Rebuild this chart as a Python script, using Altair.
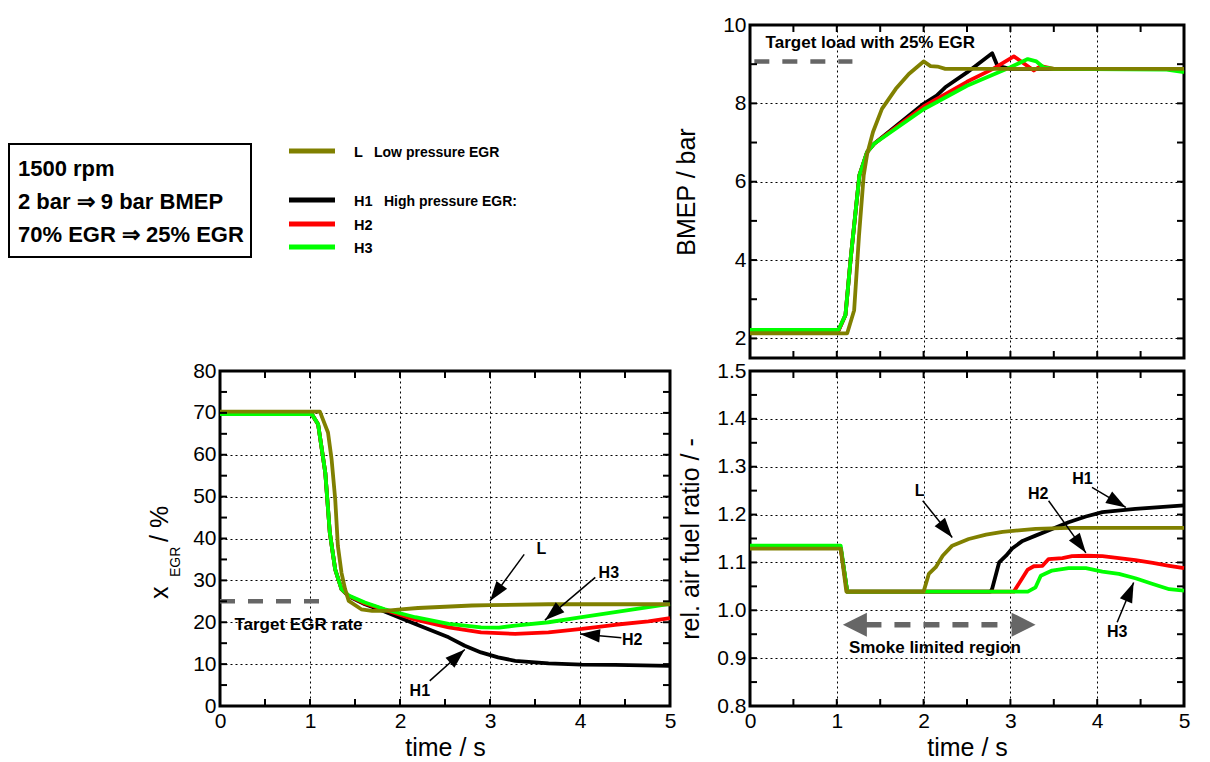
import math
import altair as alt
import pandas as pd

FONT = "Liberation Sans"
OLIVE, BLACK, RED, GREEN, GREY = "#808000", "#000000", "#ff0000", "#00ff00", "#666666"

# ------------------------------------------------------------------ data
series_names = ["H1", "H2", "H3", "L"]
series_colors = [BLACK, RED, GREEN, OLIVE]

# BMEP / bar
bmep_h1_t = [0, 1.02, 1.10, 1.16, 1.26, 1.35, 1.43, 2.0, 2.15, 2.25, 2.5, 2.79, 2.85, 3.0, 5.0]
bmep_h1_v = [2.2, 2.2, 2.6, 4.04, 6.16, 6.76, 6.97, 7.99, 8.2, 8.41, 8.79, 9.28, 8.96, 8.88, 8.88]
bmep_h2_t = [0, 1.02, 1.10, 1.16, 1.26, 1.35, 1.43, 2.0, 2.5, 2.8, 3.04, 3.27, 3.35, 3.5, 5.0]
bmep_h2_v = [2.2, 2.2, 2.6, 4.04, 6.16, 6.76, 6.97, 7.92, 8.55, 8.88, 9.2, 8.84, 8.95, 8.88, 8.88]
bmep_h3_t = [0, 1.02, 1.10, 1.16, 1.26, 1.35, 1.43, 2.0, 2.5, 3.0, 3.2, 3.3, 3.38, 3.5, 4.8, 5.0]
bmep_h3_v = [2.22, 2.22, 2.6, 4.04, 6.16, 6.76, 6.97, 7.85, 8.45, 8.92, 9.13, 9.07, 8.92, 8.88, 8.86, 8.8]
bmep_l_t = [0, 1.12, 1.2, 1.256, 1.31, 1.35, 1.417, 1.52, 1.68, 1.83, 2.0, 2.08, 2.16, 2.25, 5.0]
bmep_l_v = [2.13, 2.13, 2.72, 4.63, 6.16, 6.71, 7.27, 7.86, 8.37, 8.75, 9.07, 8.95, 8.94, 8.88, 8.88]

# x_EGR / %
egr_h1_t = [0, 1.02, 1.09, 1.17, 1.22, 1.28, 1.35, 1.43, 1.61, 1.8, 2.17, 2.54, 2.72, 2.9, 3.09, 3.28, 3.65, 4.02, 4.39, 5.0]
egr_h1_v = [69.7, 69.7, 67.3, 55.7, 41.4, 32.6, 27.9, 26.2, 24.3, 22.8, 19.6, 16.4, 14.4, 12.8, 11.6, 10.8, 10.2, 9.9, 9.8, 9.6]
egr_h2_t = [0, 1.02, 1.09, 1.17, 1.22, 1.28, 1.35, 1.43, 1.61, 1.8, 2.17, 2.54, 2.9, 3.28, 3.65, 4.02, 4.39, 4.76, 5.0]
egr_h2_v = [69.7, 69.7, 67.3, 55.7, 41.4, 32.6, 27.9, 26.3, 24.5, 23.2, 20.6, 18.8, 17.6, 17.2, 17.6, 18.4, 19.4, 20.2, 21.0]
egr_h3_t = [0, 1.02, 1.09, 1.17, 1.22, 1.28, 1.35, 1.43, 1.61, 1.83, 2.17, 2.54, 2.9, 3.1, 3.28, 3.65, 4.02, 4.39, 4.76, 5.0]
egr_h3_v = [69.7, 69.7, 67.3, 55.7, 41.4, 32.6, 27.9, 26.4, 24.7, 23.1, 21.2, 19.6, 18.8, 18.7, 19.2, 20.0, 21.2, 22.4, 23.6, 24.4]
egr_l_t = [0, 1.11, 1.2, 1.24, 1.28, 1.31, 1.35, 1.39, 1.43, 1.57, 1.69, 1.83, 1.98, 2.2, 2.5, 2.8, 3.0, 3.65, 5.0]
egr_l_v = [70.3, 70.3, 65.3, 58.9, 49.4, 38.2, 31.8, 27.9, 25.1, 23.1, 22.7, 22.7, 23.0, 23.4, 23.7, 24.0, 24.1, 24.3, 24.3]

# rel. air fuel ratio / -
lam_h1_t = [0, 1.045, 1.12, 2.77, 2.79, 2.87, 2.95, 3.02, 3.14, 3.29, 3.48, 3.67, 3.87, 4.06, 4.44, 5.0]
lam_h1_v = [1.13, 1.13, 1.039, 1.039, 1.045, 1.10, 1.114, 1.129, 1.145, 1.156, 1.17, 1.184, 1.196, 1.205, 1.212, 1.219]
lam_h2_t = [0, 1.045, 1.12, 3.04, 3.2, 3.27, 3.37, 3.44, 3.6, 3.71, 3.87, 4.06, 4.25, 4.44, 4.64, 4.83, 5.0]
lam_h2_v = [1.13, 1.13, 1.039, 1.039, 1.085, 1.092, 1.093, 1.107, 1.109, 1.113, 1.114, 1.113, 1.109, 1.105, 1.099, 1.093, 1.088]
lam_h3_t = [0, 1.045, 1.12, 3.2, 3.29, 3.35, 3.48, 3.67, 3.87, 4.06, 4.25, 4.44, 4.64, 4.83, 5.0]
lam_h3_v = [1.135, 1.135, 1.039, 1.039, 1.048, 1.072, 1.083, 1.088, 1.088, 1.081, 1.076, 1.067, 1.055, 1.044, 1.041]
lam_l_t = [0, 1.045, 1.11, 2.0, 2.06, 2.14, 2.22, 2.33, 2.52, 2.72, 2.91, 3.29, 3.67, 5.0]
lam_l_v = [1.129, 1.129, 1.039, 1.039, 1.076, 1.09, 1.114, 1.135, 1.149, 1.158, 1.164, 1.17, 1.172, 1.172]

# axis ticks
time_major = [0, 1, 2, 3, 4, 5]
time_minor = [0, 0.5, 1, 1.5, 2, 2.5, 3, 3.5, 4, 4.5, 5]
bmep_major = [2, 4, 6, 8, 10]
bmep_minor = [2, 3, 4, 5, 6, 7, 8, 9, 10]
egr_major = [0, 10, 20, 30, 40, 50, 60, 70, 80]
egr_minor = [0, 5, 10, 15, 20, 25, 30, 35, 40, 45, 50, 55, 60, 65, 70, 75, 80]
lam_major = [0.8, 0.9, 1.0, 1.1, 1.2, 1.3, 1.4, 1.5]
lam_minor = [0.8, 0.85, 0.9, 0.95, 1.0, 1.05, 1.1, 1.15, 1.2, 1.25, 1.3, 1.35, 1.4, 1.45, 1.5]

# annotations
bmep_target_t = [0.05, 1.18]
bmep_target_v = 9.07
bmep_target_text = "Target load with 25% EGR"
bmep_target_text_pos = (0.18, 9.54)

egr_target_t = [0.0, 1.15]
egr_target_v = 25
egr_target_text = "Target EGR rate"
egr_target_text_pos = (0.16, 19.3)
egr_arrow_labels = ["L", "H3", "H2", "H1"]
egr_arrow_label_t = [3.57, 4.32, 4.58, 2.22]
egr_arrow_label_v = [37.4, 31.7, 15.8, 3.6]
egr_arrow_from_t = [3.38, 4.17, 4.46, 2.33]
egr_arrow_from_v = [36.2, 30.7, 16.3, 6.0]
egr_arrow_to_t = [3.0, 3.61, 4.0, 2.72]
egr_arrow_to_v = [25.1, 20.5, 17.2, 13.5]

lam_arrow_labels = ["L", "H2", "H1", "H3"]
lam_arrow_label_t = [1.955, 3.32, 3.83, 4.23]
lam_arrow_label_v = [1.25, 1.244, 1.274, 0.955]
lam_arrow_from_t = [1.99, 3.44, 3.94, 4.23]
lam_arrow_from_v = [1.229, 1.229, 1.257, 0.975]
lam_arrow_to_t = [2.33, 3.87, 4.33, 4.42]
lam_arrow_to_v = [1.152, 1.12, 1.215, 1.058]
smoke_text = "Smoke limited region"
smoke_text_pos = (2.13, 0.922)
smoke_tips_t = [1.07, 3.29]
smoke_shaft_t = [1.33, 3.04]
smoke_v = 0.97

info_lines = ["1500 rpm", "2 bar \u21d2 9 bar BMEP", "70% EGR \u21d2 25% EGR"]
legend_labels = ["L", "H1", "H2", "H3"]
legend_desc = ["Low pressure EGR", "High pressure EGR:", "", ""]
legend_colors = [OLIVE, BLACK, RED, GREEN]

# ------------------------------------------------------------------ helpers
def frame(t, v):
    return pd.DataFrame({"t": t, "v": v})


def x_axis(labels, title):
    kw = dict(values=time_major, grid=True, gridDash=[2, 3], gridColor="black",
              gridOpacity=1, gridWidth=1, domain=False, ticks=False, tickSize=0,
              labels=labels, labelFont=FONT, labelFontSize=21, labelColor="black",
              labelPadding=4, labelFlush=False, labelOverlap=False)
    if title:
        kw.update(title=title, titleFont=FONT, titleFontSize=25, titleFontWeight="normal",
                  titleColor="black", titlePadding=4)
    else:
        kw.update(title=None)
    return alt.Axis(**kw)


def y_axis(values, fmt, title, title_pad):
    kw = dict(values=values, format=fmt, grid=True, gridDash=[2, 3], gridColor="black",
              gridOpacity=1, gridWidth=1, domain=False, ticks=False, tickSize=0,
              labelFont=FONT, labelFontSize=21, labelColor="black", labelPadding=4,
              labelFlush=False, labelOverlap=False)
    if title:
        kw.update(title=title, titleFont=FONT, titleFontSize=25, titleFontWeight="normal",
                  titleColor="black", titlePadding=title_pad)
    else:
        kw.update(title=None)
    return alt.Axis(**kw)


def panel(W, H, ydom, y_major, y_minor, y_fmt, y_title, y_title_pad, x_labels, x_title,
          series_t, series_v, extra):
    xs = alt.Scale(domain=[0, 5], nice=False, zero=False)
    ys = alt.Scale(domain=ydom, nice=False, zero=False)
    xa = x_axis(x_labels, x_title)
    ya = y_axis(y_major, y_fmt, y_title, y_title_pad)

    def X(f):
        return alt.X(f, type="quantitative", scale=xs, axis=xa)

    def Y(f):
        return alt.Y(f, type="quantitative", scale=ys, axis=ya)

    layers = []
    ppx = W / 5.0
    ppy = H / (ydom[1] - ydom[0])
    pre, post = extra(X, Y, ppx, ppy)
    layers += pre
    for name, col in zip(series_names, series_colors):
        df = frame(series_t[name], series_v[name])
        layers.append(alt.Chart(df).mark_line(color=col, strokeWidth=3.8, strokeJoin="round")
                      .encode(x=X("t"), y=Y("v")))
    xt = pd.DataFrame({"t": time_minor})
    yt = pd.DataFrame({"v": y_minor})
    tick = dict(color="black", strokeWidth=2)
    layers.append(alt.Chart(xt).mark_rule(**tick).encode(x=X("t"), y=alt.value(0), y2=alt.value(7)))
    layers.append(alt.Chart(xt).mark_rule(**tick).encode(x=X("t"), y=alt.value(H - 7), y2=alt.value(H)))
    layers.append(alt.Chart(yt).mark_rule(**tick).encode(y=Y("v"), x=alt.value(0), x2=alt.value(7)))
    layers.append(alt.Chart(yt).mark_rule(**tick).encode(y=Y("v"), x=alt.value(W - 7), x2=alt.value(W)))
    layers += post
    return alt.layer(*layers).properties(width=W, height=H)


HEAD_PATH = "M0,0L0.4,1.2L-0.4,1.2Z"


def arrows(X, Y, ppx, ppy, labels, lt, lv, ft, fv, tt, tv):
    ang = [math.degrees(math.atan2((b - a) * ppx, (d - c) * ppy)) % 360
           for a, b, c, d in zip(ft, tt, fv, tv)]
    df = pd.DataFrame({"t1": ft, "v1": fv, "t": tt, "v": tv, "ang": ang})
    lab = pd.DataFrame({"t": lt, "v": lv, "label": labels})
    shaft = alt.Chart(df).mark_rule(color="black", strokeWidth=1.5).encode(
        x=X("t1"), y=Y("v1"), x2="t", y2="v")
    head = alt.Chart(df).mark_point(shape=HEAD_PATH, filled=True, color="black", opacity=1,
                                    size=1100, strokeWidth=0).encode(
        x=X("t"), y=Y("v"), angle=alt.Angle("ang:Q", scale=None))
    text = alt.Chart(lab).mark_text(font=FONT, fontSize=16, fontWeight="bold", color="black",
                                    align="center", baseline="middle").encode(
        x=X("t"), y=Y("v"), text="label:N")
    return [shaft, head, text]


# ------------------------------------------------------------------ BMEP panel
def bmep_extra(X, Y, ppx, ppy):
    tgt = pd.DataFrame({"t": [bmep_target_t[0]], "t2": [bmep_target_t[1]], "v": [bmep_target_v]})
    dash = alt.Chart(tgt).mark_rule(color=GREY, strokeWidth=4.5, strokeDash=[15, 13]).encode(
        x=X("t"), x2="t2", y=Y("v"))
    txt = pd.DataFrame({"t": [bmep_target_text_pos[0]], "v": [bmep_target_text_pos[1]],
                        "label": [bmep_target_text]})
    text = alt.Chart(txt).mark_text(font=FONT, fontSize=17, fontWeight="bold", color="black",
                                    align="left", baseline="middle").encode(
        x=X("t"), y=Y("v"), text="label:N")
    return [dash], [text]


bmep = panel(434, 333, [1.5, 10], bmep_major, bmep_minor, "d", "BMEP / bar", 23, False, "",
             {"H1": bmep_h1_t, "H2": bmep_h2_t, "H3": bmep_h3_t, "L": bmep_l_t},
             {"H1": bmep_h1_v, "H2": bmep_h2_v, "H3": bmep_h3_v, "L": bmep_l_v},
             bmep_extra)


# ------------------------------------------------------------------ EGR panel
def egr_extra(X, Y, ppx, ppy):
    tgt = pd.DataFrame({"t": [egr_target_t[0]], "t2": [egr_target_t[1]], "v": [egr_target_v]})
    dash = alt.Chart(tgt).mark_rule(color=GREY, strokeWidth=4.5, strokeDash=[15, 13]).encode(
        x=X("t"), x2="t2", y=Y("v"))
    txt = pd.DataFrame({"t": [egr_target_text_pos[0]], "v": [egr_target_text_pos[1]],
                        "label": [egr_target_text]})
    text = alt.Chart(txt).mark_text(font=FONT, fontSize=17, fontWeight="bold", color="black",
                                    align="left", baseline="middle").encode(
        x=X("t"), y=Y("v"), text="label:N")
    arr = arrows(X, Y, ppx, ppy, egr_arrow_labels, egr_arrow_label_t, egr_arrow_label_v,
                 egr_arrow_from_t, egr_arrow_from_v, egr_arrow_to_t, egr_arrow_to_v)
    one = pd.DataFrame({"d": [0]})
    title_parts = [("x", 25, -52, 228), ("EGR", 14, -40, 206), ("/ %", 25, -52, 171)]
    ttl = [alt.Chart(one).mark_text(text=s, font=FONT, fontSize=fs, angle=270, align="left",
                                    baseline="alphabetic", color="black").encode(
        x=alt.value(xx), y=alt.value(yy)) for s, fs, xx, yy in title_parts]
    return [dash], [text] + arr + ttl


egr = panel(450, 335, [0, 80], egr_major, egr_minor, "d", "", 4, True, "time / s",
            {"H1": egr_h1_t, "H2": egr_h2_t, "H3": egr_h3_t, "L": egr_l_t},
            {"H1": egr_h1_v, "H2": egr_h2_v, "H3": egr_h3_v, "L": egr_l_v},
            egr_extra)


# ------------------------------------------------------------------ lambda panel
def lam_extra(X, Y, ppx, ppy):
    shaft = pd.DataFrame({"t": [smoke_shaft_t[0]], "t2": [smoke_shaft_t[1]], "v": [smoke_v]})
    dash = alt.Chart(shaft).mark_rule(color=GREY, strokeWidth=5.5, strokeDash=[16, 13]).encode(
        x=X("t"), x2="t2", y=Y("v"))
    lh = alt.Chart(pd.DataFrame({"t": [smoke_tips_t[0]], "v": [smoke_v]})).mark_point(
        shape="M0,0L1,-0.5L1,0.5Z", filled=True, color=GREY, opacity=1, size=2300,
        strokeWidth=0).encode(x=X("t"), y=Y("v"))
    rh = alt.Chart(pd.DataFrame({"t": [smoke_tips_t[1]], "v": [smoke_v]})).mark_point(
        shape="M0,0L-1,-0.5L-1,0.5Z", filled=True, color=GREY, opacity=1, size=2300,
        strokeWidth=0).encode(x=X("t"), y=Y("v"))
    txt = pd.DataFrame({"t": [smoke_text_pos[0]], "v": [smoke_text_pos[1]], "label": [smoke_text]})
    text = alt.Chart(txt).mark_text(font=FONT, fontSize=17, fontWeight="bold", color="black",
                                    align="center", baseline="middle").encode(
        x=X("t"), y=Y("v"), text="label:N")
    arr = arrows(X, Y, ppx, ppy, lam_arrow_labels, lam_arrow_label_t, lam_arrow_label_v,
                 lam_arrow_from_t, lam_arrow_from_v, lam_arrow_to_t, lam_arrow_to_v)
    return [], [dash, lh, rh, text] + arr


lam = panel(434, 335, [0.8, 1.5], lam_major, lam_minor, ".1f", "rel. air fuel ratio / -", 13,
            True, "time / s",
            {"H1": lam_h1_t, "H2": lam_h2_t, "H3": lam_h3_t, "L": lam_l_t},
            {"H1": lam_h1_v, "H2": lam_h2_v, "H3": lam_h3_v, "L": lam_l_v},
            lam_extra)

# ------------------------------------------------------------------ header (info box + legend)
one = pd.DataFrame({"d": [0]})
hdr = [alt.Chart(one).mark_rect(fill="white", stroke="black", strokeWidth=2).encode(
    x=alt.value(-211), x2=alt.value(31), y=alt.value(119), y2=alt.value(232))]
for i, line in enumerate(info_lines):
    hdr.append(alt.Chart(one).mark_text(text=line, font=FONT, fontSize=22, fontWeight="bold",
                                        align="left", baseline="middle", color="black").encode(
        x=alt.value(-202), y=alt.value(144 + 33 * i)))
legend_y = [126, 175, 199, 222]
for lab, desc, col, yy in zip(legend_labels, legend_desc, legend_colors, legend_y):
    hdr.append(alt.Chart(one).mark_rule(color=col, strokeWidth=5).encode(
        x=alt.value(69), x2=alt.value(115), y=alt.value(yy)))
    hdr.append(alt.Chart(one).mark_text(text=lab, font=FONT, fontSize=14.5, fontWeight="bold",
                                        align="left", baseline="middle", color="black").encode(
        x=alt.value(134), y=alt.value(yy + 2)))
    if desc:
        hdr.append(alt.Chart(one).mark_text(text=desc, font=FONT, fontSize=14, fontWeight="bold",
                                            align="left", baseline="middle", color="black").encode(
            x=alt.value(154 if lab == "L" else 164), y=alt.value(yy + 2)))
header = alt.layer(*hdr).properties(width=450, height=333,
                                    view=alt.ViewBackground(strokeOpacity=0))

chart = alt.concat(header, bmep, egr, lam, columns=2, align="each",
                   spacing={"row": -3, "column": -5}).properties(
    padding={"left": 0, "top": 4, "right": 5, "bottom": 5},
    background="white",
).configure_view(stroke="black", strokeWidth=3)

chart.save("out.html", embed_options={"renderer": "svg", "actions": False})
